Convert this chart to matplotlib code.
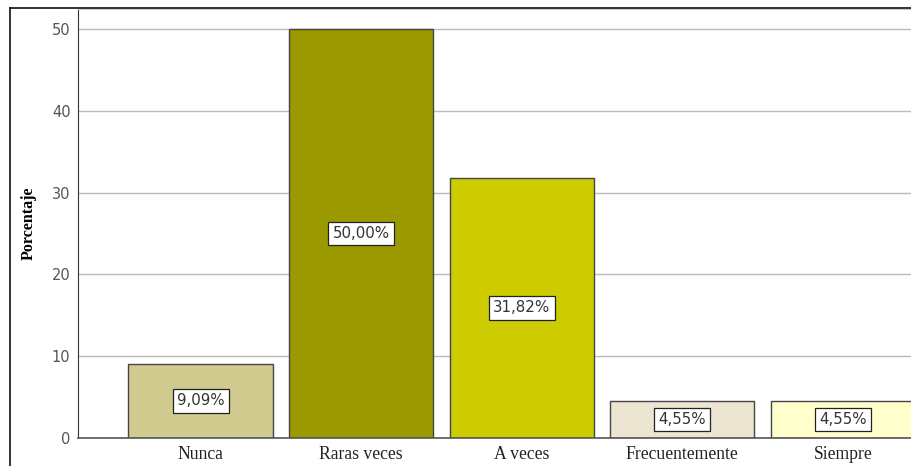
import matplotlib
matplotlib.use("Agg")
import matplotlib.pyplot as plt
from matplotlib.lines import Line2D

categories = ["Nunca", "Raras veces", "A veces", "Frecuentemente", "Siempre"]
values = [9.09, 50.00, 31.82, 4.55, 4.55]
labels = ["9,09%", "50,00%", "31,82%", "4,55%", "4,55%"]
colors = ["#d0ca8f", "#9a9a00", "#cccc00", "#ebe5d2", "#ffffcc"]

fig = plt.figure(figsize=(9.11, 4.66), dpi=100)
ax = fig.add_axes([77.5 / 911, 1 - 438 / 466, 1 - 77.5 / 911, (438 - 9) / 466])

x = list(range(len(categories)))
ax.bar(x, values, width=0.897, color=colors, edgecolor="#454545", linewidth=1.0, zorder=2)

for xi, v, lab in zip(x, values, labels):
    ax.text(xi, v / 2, lab, ha="center", va="center", fontsize=10.8, color="#333333",
            family="DejaVu Sans", zorder=3,
            bbox=dict(boxstyle="square,pad=0.28", fc="white", ec="#222222", lw=0.9))

ax.set_xlim(-0.766, 4.424)
ax.set_ylim(0, 52.45)
ax.set_yticks([0, 10, 20, 30, 40, 50])
ax.set_xticks(x)
ax.set_xticklabels(categories, family="Liberation Serif", fontsize=12.7, color="#222222")
ax.tick_params(axis="both", length=0)
ax.tick_params(axis="y", labelsize=10.5, labelcolor="#555555", pad=5)
ax.tick_params(axis="x", pad=6)
ax.yaxis.grid(True, color="#bbbbbb", linewidth=1.0, zorder=0)
ax.set_axisbelow(True)

ax.spines["right"].set_visible(False)
ax.spines["top"].set_color("#cccccc")
ax.spines["left"].set_color("#333333")
ax.spines["bottom"].set_color("#555555")
ax.spines["bottom"].set_linewidth(1.2)

ax.set_ylabel("Porcentaje", family="Liberation Serif", fontweight="bold", fontsize=11.5)
ax.yaxis.set_label_coords((37 - 77.5) / (911 - 77.5), 0.5)

# outer frame of the original figure
fig.add_artist(Line2D([10 / 911, 10 / 911], [0, 1 - 7.5 / 466], transform=fig.transFigure,
                      color="#111111", linewidth=1.2))
fig.add_artist(Line2D([10 / 911, 1], [1 - 7.5 / 466, 1 - 7.5 / 466], transform=fig.transFigure,
                      color="#111111", linewidth=1.2))

fig.savefig("out.png", dpi=100)
